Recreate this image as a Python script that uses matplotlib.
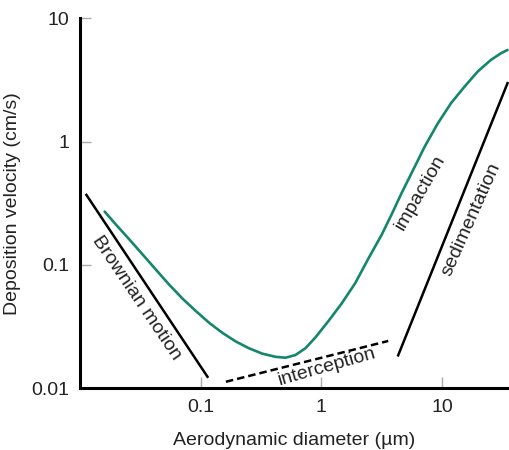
import matplotlib
matplotlib.use("Agg")
import matplotlib.pyplot as plt
from matplotlib.ticker import FixedLocator, NullLocator

plt.rcParams['font.family'] = ['Liberation Sans', 'DejaVu Sans']

# total deposition velocity curve
diam = [0.0160, 0.0200, 0.0258, 0.0332, 0.0428, 0.0551, 0.0711, 0.0915, 0.118,
        0.152, 0.195, 0.252, 0.324, 0.418, 0.505, 0.610, 0.738, 0.893, 1.08,
        1.15, 1.48, 1.91, 2.45, 3.17, 3.83, 4.63, 5.25, 5.96, 7.20, 9.27,
        11.9, 15.4, 19.8, 25.5, 30.9, 35.0]
vdep = [0.271, 0.211, 0.160, 0.121, 0.0911, 0.0689, 0.0531, 0.0422, 0.0339,
        0.0281, 0.0240, 0.0211, 0.0191, 0.0180, 0.0177, 0.0186, 0.0211, 0.0258,
        0.0326, 0.0352, 0.0489, 0.0711, 0.112, 0.176, 0.257, 0.382, 0.489,
        0.627, 0.911, 1.41, 2.05, 2.79, 3.70, 4.60, 5.21, 5.54]

# mechanism asymptotes
brown_x = [0.0113, 0.114]
brown_y = [0.370, 0.0124]
inter_x = [0.162, 3.59]
inter_y = [0.0113, 0.0242]
sedim_x = [4.34, 35.0]
sedim_y = [0.0185, 2.98]

xticks = [0.1, 1, 10]
xtick_labels = ['0.1', '1', '10']
yticks = [0.01, 0.1, 1, 10]
ytick_labels = ['0.01', '0.1', '1', '10']

fig = plt.figure(figsize=(5.09, 4.5), dpi=100)
ax = fig.add_axes([80/509, 1 - 388.3/450, 1 - 80/509, (388.3 - 18.3)/450])
ax.set_xscale('log')
ax.set_yscale('log')
ax.set_xlim(0.01, 36)
ax.set_ylim(0.01, 10)

ax.plot(diam, vdep, color='#13876b', lw=1.9, solid_capstyle='round',
        solid_joinstyle='round')
ax.plot(brown_x, brown_y, color='black', lw=1.8)
ax.plot(inter_x, inter_y, color='black', lw=1.8, ls=(0, (3, 1.6)))
ax.plot(sedim_x, sedim_y, color='black', lw=1.8)

txt = dict(color='#222222', fontsize=14, ha='center', va='center',
           rotation_mode='anchor')
ax.text(0.0293, 0.054, 'Brownian motion', rotation=-56, **txt)
ax.text(1.12, 0.0149, 'interception', rotation=16, **txt)
ax.text(6.67, 0.384, 'impaction', rotation=60, **txt)
ax.text(17.6, 0.232, 'sedimentation', rotation=66, **txt)

for s in ['top', 'right']:
    ax.spines[s].set_visible(False)
for s in ['left', 'bottom']:
    ax.spines[s].set_linewidth(2.2)

ax.xaxis.set_major_locator(FixedLocator(xticks))
ax.xaxis.set_minor_locator(NullLocator())
ax.set_xticklabels(xtick_labels)
ax.yaxis.set_major_locator(FixedLocator(yticks))
ax.yaxis.set_minor_locator(NullLocator())
ax.set_yticklabels(ytick_labels)
ax.tick_params(direction='in', length=8, width=1, color='#aaaaaa',
               labelsize=14, labelcolor='#222222', pad=8)

ax.set_xlabel('Aerodynamic diameter (\u00b5m)', fontsize=14, color='#222222', labelpad=11)
ax.set_ylabel('Deposition velocity (cm/s)', fontsize=14, color='#222222', labelpad=7)

fig.savefig('out.png', dpi=100)
